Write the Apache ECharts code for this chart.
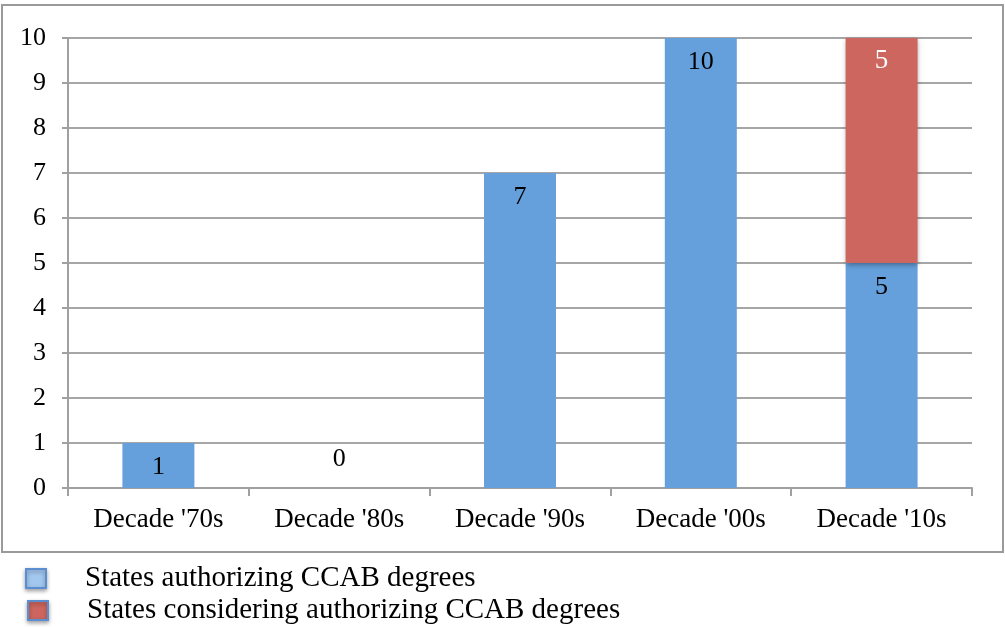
<!DOCTYPE html>
<html>
<head>
<meta charset="utf-8">
<script src="https://cdn.jsdelivr.net/npm/echarts@6/dist/echarts.min.js"></script>
<style>
  html, body { margin: 0; padding: 0; background: #fff; }
  #chart { width: 1005px; height: 627px; }
</style>
</head>
<body>
<div id="chart"></div>
<script>
var categories = ["Decade '70s", "Decade '80s", "Decade '90s", "Decade '00s", "Decade '10s"];
var authorizing = [1, 0, 7, 10, 5];
var considering = [null, null, null, null, 5];
var yTicks = [0, 10, 1]; // min, max, interval

var font = '"Liberation Serif", "DejaVu Serif", serif';
var myChart = echarts.init(document.getElementById('chart'));

// zero-height bar gets its label above the axis, others inside the top
var blueData = authorizing.map(function (v) {
  if (v === 0) {
    return { value: v, label: { position: 'top', distance: 16 } };
  }
  return v;
});

var legendText = { fontFamily: font, fontSize: 29, color: '#000', padding: [0, 0, 0, 34] };
var iconShadow = { shadowColor: 'rgba(0,0,0,0.35)', shadowBlur: 4, shadowOffsetY: 2 };

myChart.setOption({
  animation: false,
  graphic: [{
    type: 'rect',
    shape: { x: 2, y: 5, width: 1001, height: 547 },
    style: { fill: 'none', stroke: '#9a9a9a', lineWidth: 2 },
    silent: true
  }],
  grid: { left: 68, right: 33, top: 38, bottom: 139 },
  legend: [
    {
      left: 25, top: 564, padding: 0, itemWidth: 20, itemHeight: 19,
      textStyle: legendText,
      data: [{ name: 'States authorizing CCAB degrees', icon: 'rect',
        itemStyle: Object.assign({ color: '#a3c8f0', borderColor: '#5a8ed0', borderWidth: 2 }, iconShadow) }]
    },
    {
      left: 27, top: 596, padding: 0, itemWidth: 20, itemHeight: 19,
      textStyle: legendText,
      data: [{ name: 'States considering authorizing CCAB degrees', icon: 'rect',
        itemStyle: Object.assign({ color: '#cd665e', borderColor: '#5a8ed0', borderWidth: 2 }, iconShadow) }]
    }
  ],
  xAxis: {
    type: 'category',
    data: categories,
    axisLine: { lineStyle: { color: '#a0a0a0', width: 2 } },
    axisTick: { show: true, length: 8, lineStyle: { color: '#a0a0a0', width: 2 } },
    axisLabel: { fontFamily: font, fontSize: 27, color: '#000', margin: 18 }
  },
  yAxis: {
    type: 'value',
    min: yTicks[0],
    max: yTicks[1],
    interval: yTicks[2],
    axisLine: { show: true, lineStyle: { color: '#a0a0a0', width: 2 } },
    axisTick: { show: true, length: 6, lineStyle: { color: '#a0a0a0', width: 2 } },
    axisLabel: { fontFamily: font, fontSize: 26, color: '#000', margin: 22 },
    splitLine: { lineStyle: { color: '#a6a6a6', width: 2 } }
  },
  series: [
    {
      name: 'States authorizing CCAB degrees',
      type: 'bar',
      stack: 'total',
      barWidth: 72,
      itemStyle: { color: '#65a0dc' },
      label: {
        show: true,
        position: 'insideTop',
        distance: 11,
        fontFamily: font,
        fontSize: 26,
        color: '#000'
      },
      data: blueData
    },
    {
      name: 'States considering authorizing CCAB degrees',
      type: 'bar',
      stack: 'total',
      barWidth: 72,
      itemStyle: {
        color: '#cd665e',
        shadowColor: 'rgba(0,0,0,0.35)',
        shadowBlur: 5,
        shadowOffsetY: 2
      },
      label: {
        show: true,
        position: 'insideTop',
        distance: 9,
        fontFamily: font,
        fontSize: 27,
        color: '#fff'
      },
      data: considering
    }
  ]
});
</script>
</body>
</html>
